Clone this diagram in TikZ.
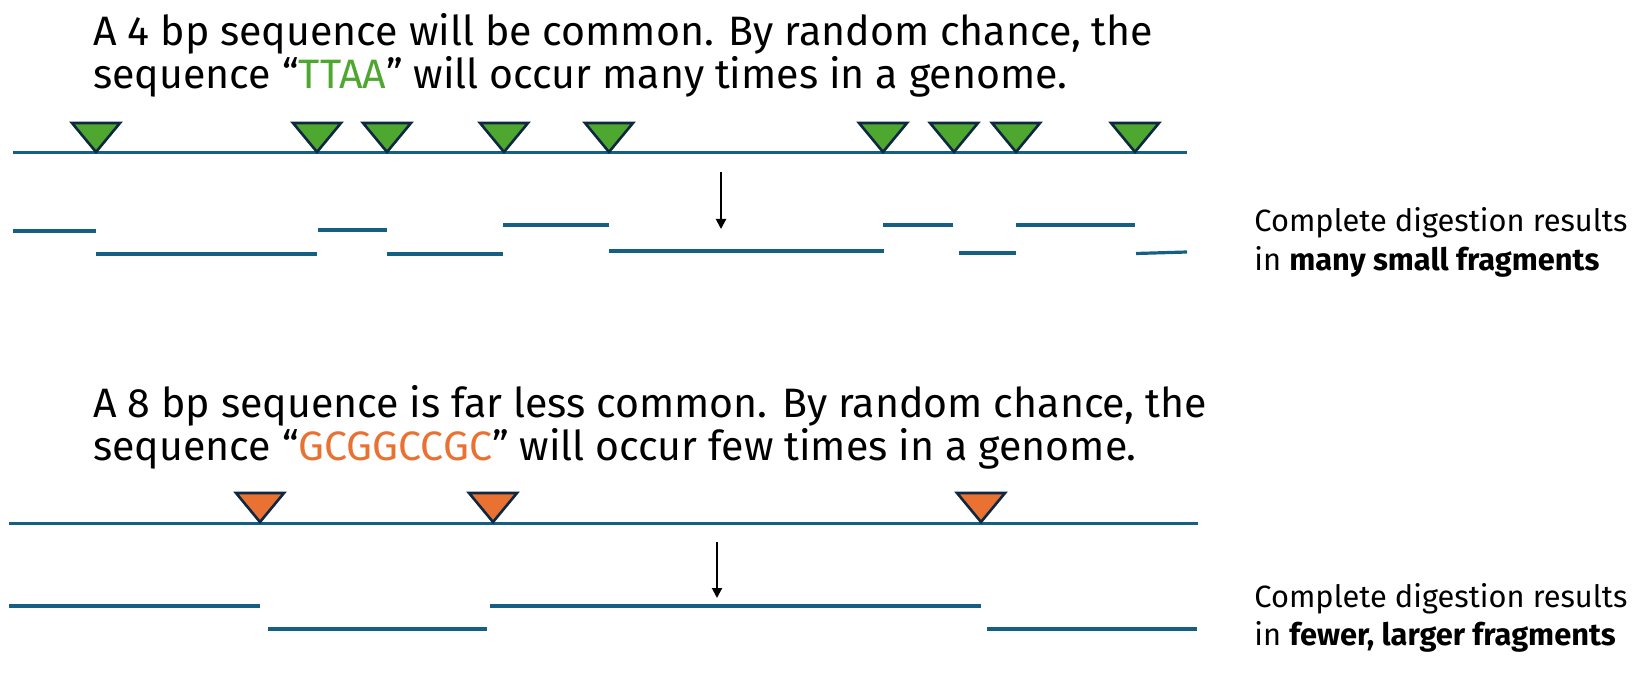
\documentclass[tikz,border=0pt]{standalone}
\usepackage{fontspec}
\setmainfont{Fira Sans}
\usetikzlibrary{arrows.meta}
\definecolor{dna}{HTML}{156082}
\definecolor{grn}{HTML}{4EA72E}
\definecolor{org}{HTML}{E97132}
\definecolor{edgec}{HTML}{0E2841}
\tikzset{
  strand/.style={draw=dna, line width=1.5pt},
  frag/.style={draw=dna, line width=1.6pt},
  headline/.style={anchor=base west, inner sep=0pt, font=\fontsize{20.55pt}{22pt}\selectfont},
  note/.style={anchor=base west, inner sep=0pt, font=\fontsize{15.4pt}{16pt}\selectfont},
  digest/.style={draw=black, line width=1pt, -{Triangle[length=5pt,width=5pt]}},
  site/.pic={\path[draw=edgec, line width=1.3pt, fill=#1, line join=miter]
     (-24,-29) -- (24,-29) -- (0,0) -- cycle;},
}
\begin{document}
\begin{tikzpicture}[x=0.5pt,y=-0.5pt]
\useasboundingbox (0,0) rectangle (1652,684);
% ---------- top panel ----------
\node[headline] (t1) at (93,46) {A 4 bp sequence will be common. By random chance, the};
\node[headline] (t2) at (93,89) {sequence “\textcolor{grn}{TTAA}” will occur many times in a genome.};
\draw[strand] (13,153) -- (1187,153);
\foreach \x in {96,317,387,504,609,883,954,1016,1135}
  \pic at (\x,152) {site=grn};
\coordinate (a1s) at (721,172);
\coordinate (a1e) at (721,229);
\draw[digest] (a1s) -- (a1e);
\foreach \a/\b/\y in {13/96/231, 96/317/254, 318/387/230, 387/503/254, 503/609/225,
                      609/884/251, 883/953/225, 959/1016/253, 1016/1135/225}
  \draw[frag] (\a,\y) -- (\b,\y);
\draw[frag] (1136,253.5) -- (1187,252);
\node[note] (n1) at (1254,232) {Complete digestion results};
\node[note] (n2) at (1254,270) {in \textbf{many small fragments}};
% ---------- bottom panel ----------
\node[headline] (b1) at (93,417) {A 8 bp sequence is far less common. By random chance, the};
\node[headline] (b2) at (93,460) {sequence “\textcolor{org}{GCGGCCGC}” will occur few times in a genome.};
\draw[strand] (9,523) -- (1198,523);
\foreach \x in {260,493,981}
  \pic at (\x,522) {site=org};
\coordinate (a2s) at (717,542);
\coordinate (a2e) at (717,598);
\draw[digest] (a2s) -- (a2e);
\foreach \a/\b/\y in {9/260/606, 268/487/629, 490/981/606, 987/1197/629}
  \draw[frag] (\a,\y) -- (\b,\y);
\node[note] (m1) at (1254,607) {Complete digestion results};
\node[note] (m2) at (1254,645) {in \textbf{fewer, larger fragments}};
\end{tikzpicture}
\end{document}
